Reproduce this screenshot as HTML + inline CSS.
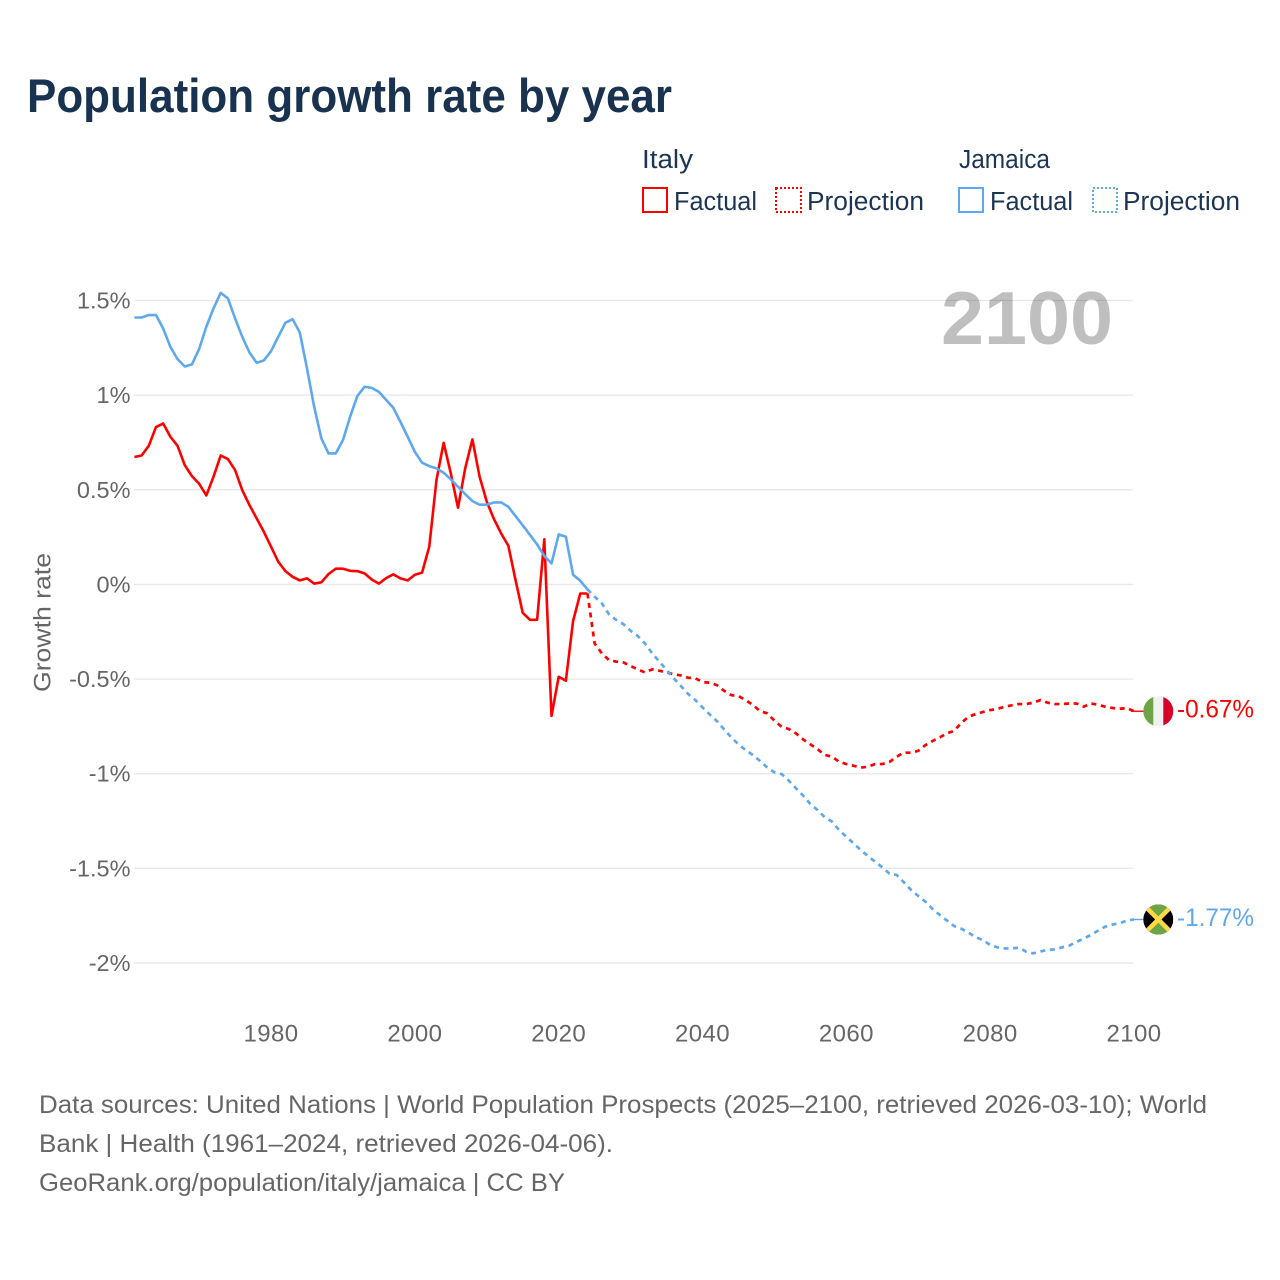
<!DOCTYPE html>
<html lang="en">
<head>
<meta charset="utf-8">
<title>Population growth rate by year</title>
<style>
html,body{margin:0;padding:0;background:#fff;}
svg{display:block;}
text{font-family:"Liberation Sans",sans-serif;}
</style>
</head>
<body>
<svg id="chart" xmlns="http://www.w3.org/2000/svg" width="1280" height="1280" viewBox="0 0 1280 1280">
  <rect width="1280" height="1280" fill="#ffffff"/>
  <text x="27" y="112" font-size="47.5" font-weight="700" fill="#18324f" textLength="645" lengthAdjust="spacingAndGlyphs">Population growth rate by year</text>

  <g font-size="25.5" fill="#1c3554">
    <text x="642" y="168" textLength="51" lengthAdjust="spacingAndGlyphs">Italy</text>
    <text x="959" y="168" textLength="91" lengthAdjust="spacingAndGlyphs">Jamaica</text>
    <rect x="643" y="188" width="24" height="24" fill="none" stroke="#ff0000" stroke-width="2"/>
    <text x="674" y="210" textLength="83" lengthAdjust="spacingAndGlyphs">Factual</text>
    <rect x="776" y="188" width="25" height="24" fill="none" stroke="#ff0000" stroke-width="2" stroke-dasharray="2 2"/>
    <text x="807" y="210" textLength="117" lengthAdjust="spacingAndGlyphs">Projection</text>
    <rect x="959" y="188" width="24" height="24" fill="none" stroke="#5fa8ee" stroke-width="2"/>
    <text x="990" y="210" textLength="83" lengthAdjust="spacingAndGlyphs">Factual</text>
    <rect x="1093" y="188" width="24" height="24" fill="none" stroke="#5fa8ee" stroke-width="2" stroke-dasharray="2 2"/>
    <text x="1123" y="210" textLength="117" lengthAdjust="spacingAndGlyphs">Projection</text>
  </g>

  <g id="grid"></g>
  <g id="yticks" font-size="23.5" fill="#666666" text-anchor="end"></g>
  <g id="xticks" font-size="24" fill="#666666" text-anchor="middle" letter-spacing="0.4"></g>
  <text transform="translate(50.5 692) rotate(-90)" font-size="24" fill="#666666" textLength="139" lengthAdjust="spacingAndGlyphs">Growth rate</text>

  <text x="941" y="344" font-size="75" font-weight="700" fill="#000000" fill-opacity="0.25" textLength="172" lengthAdjust="spacingAndGlyphs">2100</text>

  <g id="series" fill="none" stroke-linejoin="round"></g>

  <defs>
    <clipPath id="flag-clip"><circle cx="0" cy="0" r="15"/></clipPath>
  </defs>
  <g id="flag-italy">
    <g clip-path="url(#flag-clip)">
      <rect x="-15" y="-15" width="30" height="30" fill="#f0f0f0"/>
      <rect x="-15" y="-15" width="10" height="30" fill="#6da544"/>
      <rect x="5" y="-15" width="10" height="30" fill="#d80027"/>
    </g>
  </g>
  <g id="flag-jamaica">
    <g clip-path="url(#flag-clip)">
      <rect x="-15" y="-15" width="30" height="30" fill="#000000"/>
      <polygon points="-15,-15 15,-15 0,0" fill="#6da544"/>
      <polygon points="-15,15 15,15 0,0" fill="#6da544"/>
      <line x1="-15" y1="-15" x2="15" y2="15" stroke="#ffda44" stroke-width="4.5"/>
      <line x1="15" y1="-15" x2="-15" y2="15" stroke="#ffda44" stroke-width="4.5"/>
    </g>
  </g>
  <text id="value-italy" x="1177" font-size="25" fill="#ff0000" textLength="77" lengthAdjust="spacingAndGlyphs"></text>
  <text id="value-jamaica" x="1177" font-size="25" fill="#5fa8ee" textLength="77" lengthAdjust="spacingAndGlyphs"></text>

  <g font-size="25" fill="#666666">
    <text x="39" y="1113" textLength="1168" lengthAdjust="spacingAndGlyphs">Data sources: United Nations | World Population Prospects (2025–2100, retrieved 2026-03-10); World</text>
    <text x="39" y="1152" textLength="574" lengthAdjust="spacingAndGlyphs">Bank | Health (1961–2024, retrieved 2026-04-06).</text>
    <text x="39" y="1191" textLength="526" lengthAdjust="spacingAndGlyphs">GeoRank.org/population/italy/jamaica | CC BY</text>
  </g>
</svg>
<script>
var factualStartYear = 1961;
var projectionStartYear = 2024;

var yTickValues = [1.5, 1, 0.5, 0, -0.5, -1, -1.5, -2];
var yTickLabels = ["1.5%", "1%", "0.5%", "0%", "-0.5%", "-1%", "-1.5%", "-2%"];
var xTickYears = [1980, 2000, 2020, 2040, 2060, 2080, 2100];

var italyFactual = [
  .673,.681,.732,.831,.85,.78,.732,.63,.572,.532,
  .47,.569,.681,.662,.604,.498,.419,.349,.278,.199,
  .12,.07,.04,.021,.032,.004,.011,.055,.083,.083,
  .072,.07,.058,.026,.004,.033,.053,.032,.021,.051,
  .062,.199,.55,.748,.586,.405,.613,.766,.569,.437,
  .345,.269,.204,.023,-.15,-.187,-.187,.238,-.695,-.488,
  -.509,-.194,-.048,-.048
];
var italyProjection = [
  -.048,-.312,-.364,-.40,-.408,-.412,-.431,-.449,-.465,-.449,-.456,-.465,
  -.475,-.481,-.493,-.496,-.516,-.519,-.532,-.562,-.585,-.59,
  -.611,-.637,-.669,-.681,-.72,-.752,-.764,-.787,-.819,-.845,
  -.871,-.901,-.91,-.937,-.949,-.958,-.968,-.963,-.949,-.949,
  -.938,-.91,-.889,-.889,-.879,-.849,-.827,-.808,-.787,-.773,
  -.731,-.699,-.685,-.674,-.664,-.658,-.646,-.639,-.632,-.632,
  -.625,-.611,-.625,-.632,-.632,-.629,-.629,-.646,-.629,-.636,
  -.646,-.653,-.657,-.653,-.67
];
var jamaicaFactual = [
  1.41,1.41,1.423,1.423,1.352,1.255,1.19,1.151,1.162,1.243,
  1.361,1.458,1.54,1.511,1.405,1.308,1.225,1.171,1.183,1.232,
  1.308,1.382,1.401,1.331,1.141,.938,.771,.692,.692,.762,
  .886,.995,1.044,1.038,1.017,.975,.933,.858,.78,.70,
  .643,.625,.613,.59,.555,.516,.477,.44,.421,.421,
  .433,.433,.41,.361,.312,.262,.211,.15,.111,.264,
  .252,.051,.019,-.026
];
var jamaicaProjection = [
  -.026,-.065,-.10,-.158,-.188,-.21,-.245,-.273,-.312,-.364,-.408,-.452,
  -.496,-.537,-.579,-.611,-.65,-.687,-.722,-.766,-.808,-.845,
  -.875,-.901,-.933,-.967,-.993,-1.002,-1.037,-1.077,-1.116,-1.16,
  -1.192,-1.23,-1.253,-1.298,-1.333,-1.368,-1.403,-1.435,-1.465,-1.495,
  -1.528,-1.535,-1.574,-1.614,-1.646,-1.676,-1.715,-1.746,-1.776,-1.805,
  -1.819,-1.84,-1.864,-1.879,-1.905,-1.917,-1.923,-1.923,-1.919,-1.94,
  -1.949,-1.939,-1.931,-1.928,-1.917,-1.908,-1.889,-1.871,-1.852,-1.829,
  -1.808,-1.797,-1.79,-1.776,-1.77
];
var italyEndLabel = "-0.67%";
var jamaicaEndLabel = "-1.77%";

var SVG_NS = "http://www.w3.org/2000/svg";
var RED = "#ff0000";
var BLUE = "#5fa8ee";

function xScale(year) {
  return 134.4 + (year - 1961) * (999.6 / 139);
}
function yScale(value) {
  return 584.4 - value * 189.3;
}
function make(tag, parent) {
  var el = document.createElementNS(SVG_NS, tag);
  parent.appendChild(el);
  return el;
}
function pathFor(values, startYear) {
  return values.map(function (v, i) {
    return (i ? "L" : "M") + xScale(startYear + i).toFixed(2) + " " + yScale(v).toFixed(2);
  }).join(" ");
}

var grid = document.getElementById("grid");
var yticks = document.getElementById("yticks");
yTickValues.forEach(function (v, i) {
  var line = make("line", grid);
  
  
  line.setAttribute("x1", 134);
  line.setAttribute("x2", 1133);
  line.setAttribute("y1", yScale(v));
  line.setAttribute("y2", yScale(v));
  line.setAttribute("stroke", "#e9e9e9");
  line.setAttribute("stroke-width", 1.4);
  var label = make("text", yticks);
  
  
  label.setAttribute("x", 130.5);
  label.setAttribute("y", yScale(v) + 8);
  label.textContent = yTickLabels[i];
});

var xticks = document.getElementById("xticks");
xTickYears.forEach(function (year) {
  var label = make("text", xticks);
  
  
  label.setAttribute("x", xScale(year));
  label.setAttribute("y", 1041.5);
  label.textContent = String(year);
});

var series = document.getElementById("series");

var italyProjPath = make("path", series);


italyProjPath.setAttribute("d", pathFor(italyProjection, projectionStartYear));
italyProjPath.setAttribute("stroke", RED);
italyProjPath.setAttribute("stroke-width", 2.7);
italyProjPath.setAttribute("stroke-dasharray", "5 4.6");

var italyFactPath = make("path", series);


italyFactPath.setAttribute("d", pathFor(italyFactual, factualStartYear));
italyFactPath.setAttribute("stroke", RED);
italyFactPath.setAttribute("stroke-width", 2.6);

var jamaicaProjPath = make("path", series);


jamaicaProjPath.setAttribute("d", pathFor(jamaicaProjection, projectionStartYear));
jamaicaProjPath.setAttribute("stroke", BLUE);
jamaicaProjPath.setAttribute("stroke-width", 2.7);
jamaicaProjPath.setAttribute("stroke-dasharray", "5 4.6");

var jamaicaFactPath = make("path", series);


jamaicaFactPath.setAttribute("d", pathFor(jamaicaFactual, factualStartYear));
jamaicaFactPath.setAttribute("stroke", BLUE);
jamaicaFactPath.setAttribute("stroke-width", 2.6);

var italyEnd = italyProjection[italyProjection.length - 1];
var jamaicaEnd = jamaicaProjection[jamaicaProjection.length - 1];

var italyConnector = make("line", series);


italyConnector.setAttribute("x1", xScale(2100) - 3);
italyConnector.setAttribute("x2", 1144);
italyConnector.setAttribute("y1", yScale(italyEnd));
italyConnector.setAttribute("y2", yScale(italyEnd));
italyConnector.setAttribute("stroke", RED);
italyConnector.setAttribute("stroke-width", 1.4);

var jamaicaConnector = make("line", series);


jamaicaConnector.setAttribute("x1", xScale(2100) - 3);
jamaicaConnector.setAttribute("x2", 1144);
jamaicaConnector.setAttribute("y1", yScale(jamaicaEnd));
jamaicaConnector.setAttribute("y2", yScale(jamaicaEnd));
jamaicaConnector.setAttribute("stroke", BLUE);
jamaicaConnector.setAttribute("stroke-width", 1.4);

document.getElementById("flag-italy").setAttribute("transform", "translate(1158.3 " + yScale(italyEnd) + ")");
document.getElementById("flag-jamaica").setAttribute("transform", "translate(1158.3 " + yScale(jamaicaEnd) + ")");

var italyValue = document.getElementById("value-italy");
italyValue.setAttribute("y", yScale(italyEnd) + 6.5);
italyValue.textContent = italyEndLabel;
var jamaicaValue = document.getElementById("value-jamaica");
jamaicaValue.setAttribute("y", yScale(jamaicaEnd) + 6.5);
jamaicaValue.textContent = jamaicaEndLabel;
</script>
</body>
</html>
